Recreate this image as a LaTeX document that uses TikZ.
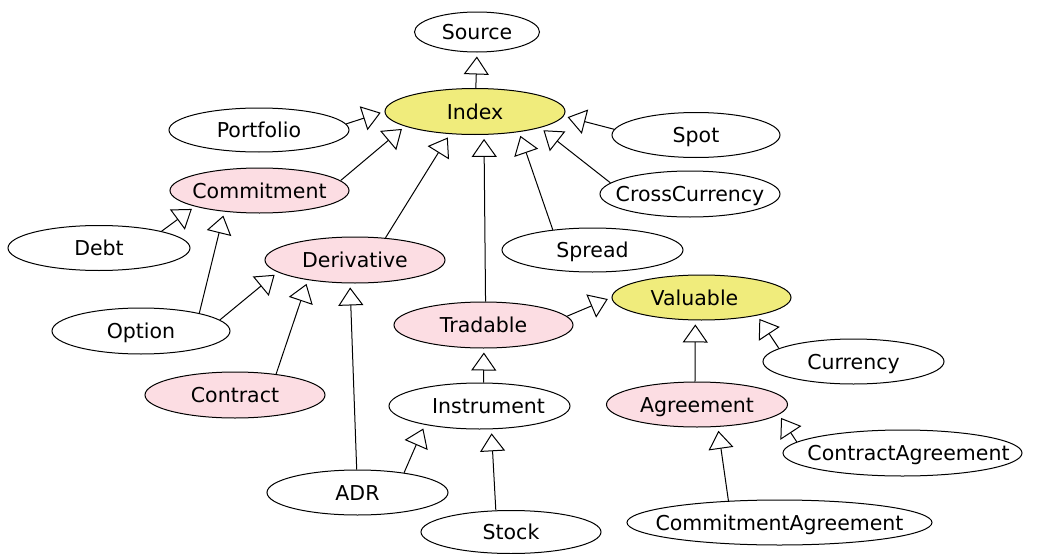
\documentclass[tikz,border=0pt]{standalone}
\usepackage{fontspec}
\setmainfont{DejaVu Sans}
\usetikzlibrary{shapes.geometric,arrows.meta}
\definecolor{yel}{RGB}{240,236,124}
\definecolor{pnk}{RGB}{252,221,227}
\newcommand\mytx[1]{\makebox[0pt]{#1}}
\begin{document}
\begin{tikzpicture}[x=1pt,y=-1pt,
  cls/.style={ellipse, draw=black, line width=1pt, inner sep=0pt, fill=white,
    minimum width=180pt, minimum height=45pt, text height=17pt, text depth=2pt,
    font=\fontsize{20.5}{24}\selectfont},
  yc/.style={cls, fill=yel},
  pc/.style={cls, fill=pnk},
  inh/.style={draw=black, line width=1pt, shorten >=4pt,
    -{Triangle[open, length=18pt, width=25pt, line width=1pt]}}
]
\fill[white] (0,0) rectangle (1037,554);
\useasboundingbox (0,0) rectangle (1037,554);

\node[cls, minimum width=125pt, minimum height=40pt] (Source) at (477,32) {\mytx{Source}};
\node[yc, minimum height=46pt] (Index) at (475,111.5) {\mytx{Index}};
\node[cls, minimum height=44pt] (Portfolio) at (259,130) {\mytx{Portfolio}};
\node[cls, minimum width=168pt] (Spot) at (696,135) {\mytx{Spot}};
\node[pc, minimum width=179pt] (Commitment) at (259.5,190.5) {\mytx{Commitment}};
\node[cls, minimum height=46pt] (CrossCurrency) at (690,194) {\mytx{CrossCurrency}};
\node[cls, minimum width=182pt] (Debt) at (99,248) {\mytx{Debt}};
\node[cls, minimum width=181pt, minimum height=44pt] (Spread) at (592.5,250) {\mytx{Spread}};
\node[pc, minimum height=46pt] (Derivative) at (355,260) {\mytx{Derivative}};
\node[yc, minimum width=179pt] (Valuable) at (701.5,297.5) {\mytx{Valuable\hspace*{14pt}}};
\node[cls, minimum width=178pt, minimum height=46pt] (Option) at (141,331) {\mytx{Option}};
\node[pc, minimum width=179pt, minimum height=46pt] (Tradable) at (483.5,325) {\mytx{Tradable}};
\node[cls, minimum width=181pt] (Currency) at (853.5,361.5) {\mytx{Currency}};
\node[pc, minimum height=46pt] (Contract) at (235,395) {\mytx{Contract}};
\node[cls, minimum width=181pt, minimum height=46pt] (Instrument) at (479.5,406) {\mytx{\hspace*{18pt}Instrument}};
\node[pc, minimum width=181pt] (Agreement) at (697,404.5) {\mytx{Agreement}};
\node[cls, minimum width=239pt, minimum height=46pt] (ContractAgreement) at (902.5,453) {\mytx{\hspace*{12pt}ContractAgreement}};
\node[cls, minimum width=181pt] (ADR) at (357.5,492.5) {\mytx{ADR}};
\node[cls, minimum width=305pt] (CommitmentAgreement) at (779.5,522.5) {\mytx{CommitmentAgreement}};
\node[cls, minimum height=43pt] (Stock) at (511,532) {\mytx{Stock}};

\draw[inh] (Index.88) -- (Source.south);
\draw[inh] (Portfolio.4) -- (Index.180);
\draw[inh] (Spot.176) -- (Index.-3);
\draw[inh] (Commitment.7) -- (Index.-168);
\draw[inh] (CrossCurrency.172) -- (Index.-14);
\draw[inh] (Derivative.36) -- (Index.-138);
\draw[inh] (Tradable.85) -- (Index.-69);
\draw[inh] (Spread.153) -- (Index.-25);
\draw[inh] (Debt.15) -- (Commitment.-166);
\draw[inh] (Option.17) -- (Commitment.-149);
\draw[inh] (Option.8) -- (Derivative.-171);
\draw[inh] (Contract.27) -- (Derivative.-157);
\draw[inh] (ADR.92) -- (Derivative.-102);
\draw[inh] (ADR.23) -- (Instrument.-161);
\draw[inh] (Stock.125) -- (Instrument.-63);
\draw[inh] (Instrument.80) -- (Tradable.-89);
\draw[inh] (Tradable.6) -- (Valuable.180);
\draw[inh] (Agreement.95) -- (Valuable.-105);
\draw[inh] (Currency.170) -- (Valuable.-18);
\draw[inh] (ContractAgreement.174) -- (Agreement.-7);
\draw[inh] (CommitmentAgreement.157) -- (Agreement.-47);
\end{tikzpicture}
\end{document}
